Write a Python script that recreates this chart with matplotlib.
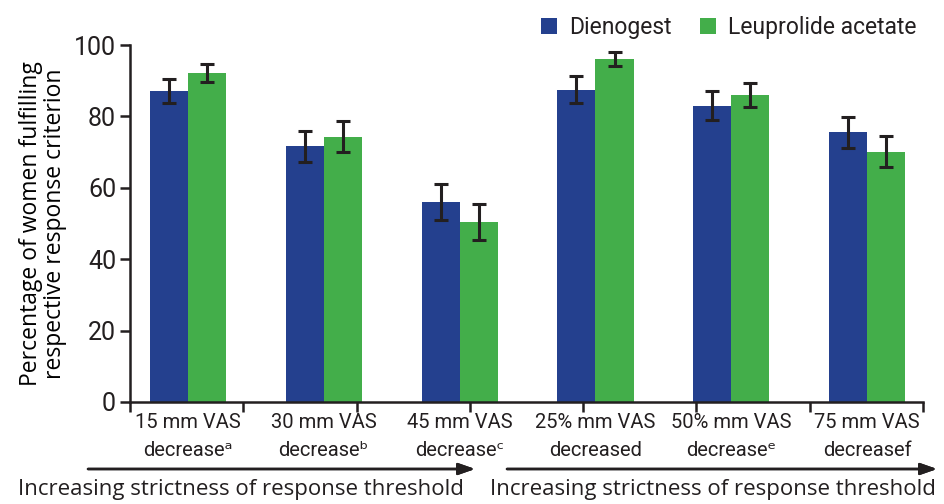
import numpy as np
import matplotlib.pyplot as plt

# Data
categories = ['15 mm VAS\ndecreaseᵃ', '30 mm VAS\ndecreaseᵇ', '45 mm VAS\ndecreaseᶜ',
              '25% mm VAS\ndecreased', '50% mm VAS\ndecreaseᵉ', '75 mm VAS\ndecreasef']
dienogest = [87.1, 71.6, 56.1, 87.5, 83.0, 75.5]
dienogest_err = [3.3, 4.4, 5.0, 3.7, 4.0, 4.4]
leuprolide = [92.1, 74.3, 50.4, 96.1, 86.0, 70.1]
leuprolide_err = [2.6, 4.4, 5.0, 2.0, 3.3, 4.4]
series_names = ['Dienogest', 'Leuprolide acetate']

blue = '#24408E'
green = '#43AE4A'
ink = '#231F20'

plt.rcParams['font.family'] = ['Roboto', 'DejaVu Sans']
plt.rcParams['text.color'] = ink

fig = plt.figure(figsize=(9.44, 5.04), dpi=100)
ax = fig.add_axes([0.1377, 0.2024, 0.840, 0.7083])

x = np.arange(len(categories))
w = 0.28
err_kw = dict(ecolor=ink, elinewidth=2.2, capsize=5, capthick=2.2)
ax.bar(x - w / 2, dienogest, w, yerr=dienogest_err, color=blue, error_kw=err_kw, label=series_names[0])
ax.bar(x + w / 2, leuprolide, w, yerr=leuprolide_err, color=green, error_kw=err_kw, label=series_names[1])

x0, x1 = -0.426, 5.41
ax.set_xlim(x0, x1)
ax.set_ylim(0, 100)
ax.set_yticks([0, 20, 40, 60, 80, 100])

# category labels at group centres, tick marks evenly spaced along the axis
ax.set_xticks(x)
ax.set_xticklabels(categories, fontsize=14.5, linespacing=1.6)
ax.tick_params(axis='x', which='major', length=0, pad=8, labelcolor=ink)
ax.set_xticks(np.linspace(x0, x1, 8), minor=True)
ax.tick_params(axis='x', which='minor', direction='out', length=7, width=1.8, color=ink)
ax.tick_params(axis='y', direction='out', length=7, width=1.8, color=ink, labelsize=18, pad=3, labelcolor=ink)

for s in ['top', 'right']:
    ax.spines[s].set_visible(False)
for s in ['left', 'bottom']:
    ax.spines[s].set_linewidth(1.8)
    ax.spines[s].set_color(ink)

ax.set_ylabel('Percentage of women fulfilling\nrespective response criterion',
              fontsize=16.5, family=['Open Sans', 'DejaVu Sans'], labelpad=5, linespacing=1.0)

fig.legend(loc='upper right', bbox_to_anchor=(0.993, 1.01), ncol=2, frameon=False,
           fontsize=16.5, handlelength=0.7, handleheight=0.7, handletextpad=0.55, columnspacing=1.2)

# arrows and captions under the axis
for (a0, a1, tx) in [(88, 475, 241), (507, 937, 713)]:
    fig.add_artist(plt.annotate('', xy=(a1 / 944, 1 - 469 / 504), xytext=(a0 / 944, 1 - 469 / 504),
                                xycoords='figure fraction', textcoords='figure fraction',
                                arrowprops=dict(arrowstyle='-|>,head_length=1.0,head_width=0.35',
                                                color=ink, lw=1.8, shrinkA=0, shrinkB=0)))
    fig.text(tx / 944, 1 - 489 / 504, 'Increasing strictness of response threshold', ha='center', va='center',
             fontsize=16, family=['Open Sans', 'DejaVu Sans'])

fig.savefig('out.png', dpi=100)
